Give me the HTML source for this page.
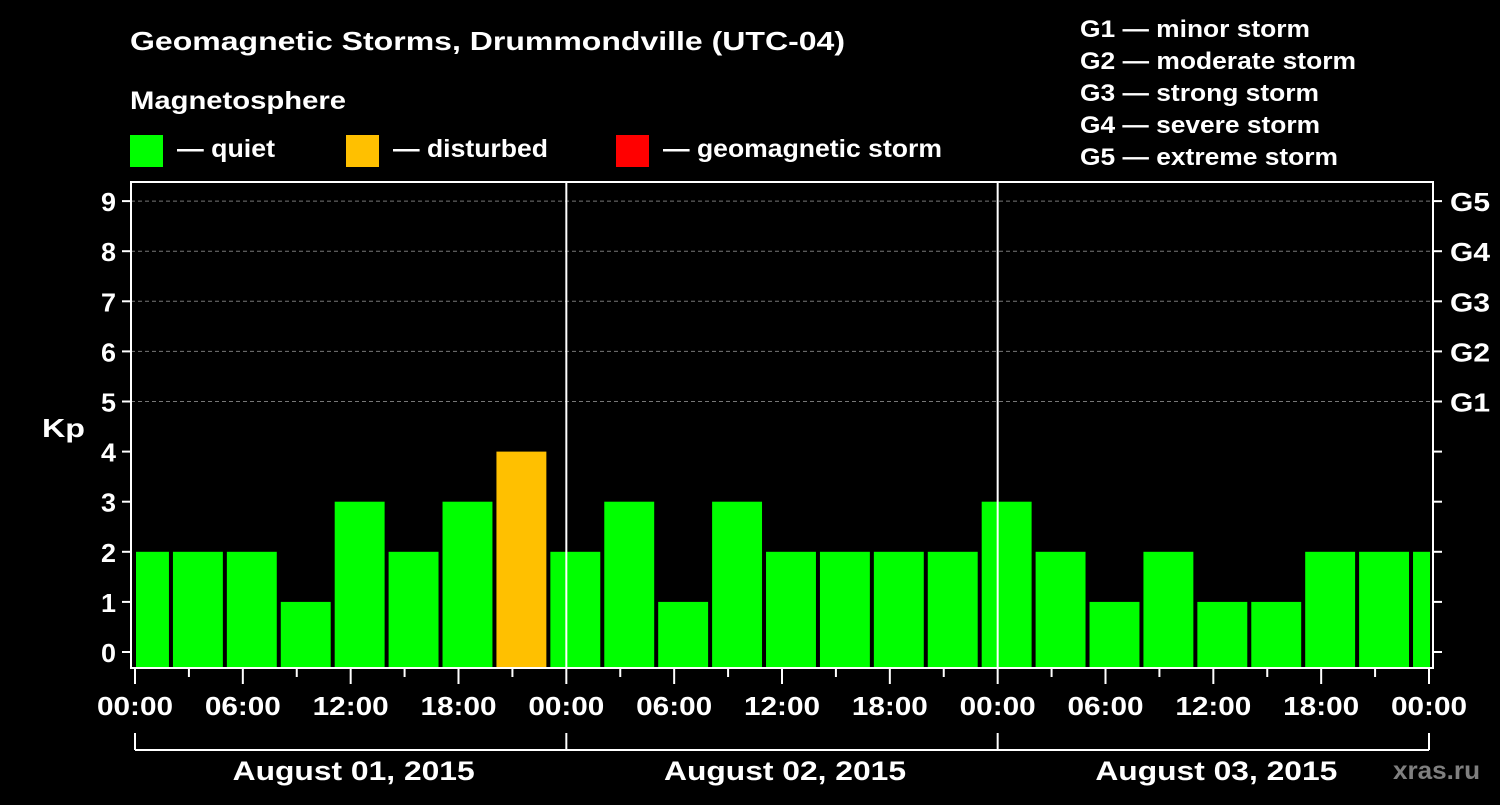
<!DOCTYPE html>
<html><head><meta charset="utf-8"><style>
html,body{margin:0;padding:0;background:#000;}
text{font-family:"Liberation Sans",sans-serif;font-weight:bold;fill:#fff;}
</style></head><body>
<svg width="1500" height="800" viewBox="0 0 1500 800" id="chart">
<text x="130" y="50" font-size="26" textLength="715" lengthAdjust="spacingAndGlyphs">Geomagnetic Storms, Drummondville (UTC-04)</text>
<text x="130" y="109" font-size="25" textLength="216" lengthAdjust="spacingAndGlyphs">Magnetosphere</text>
<rect x="130" y="135" width="33" height="32" fill="#00ff00"/>
<text x="177" y="157" font-size="25" textLength="98" lengthAdjust="spacingAndGlyphs">— quiet</text>
<rect x="346" y="135" width="33" height="32" fill="#ffc000"/>
<text x="393" y="157" font-size="25" textLength="155" lengthAdjust="spacingAndGlyphs">— disturbed</text>
<rect x="616" y="135" width="33" height="32" fill="#ff0000"/>
<text x="663" y="157" font-size="25" textLength="279" lengthAdjust="spacingAndGlyphs">— geomagnetic storm</text>
<g font-size="24">
<text x="1080" y="37" textLength="230" lengthAdjust="spacingAndGlyphs">G1 — minor storm</text>
<text x="1080" y="69" textLength="276" lengthAdjust="spacingAndGlyphs">G2 — moderate storm</text>
<text x="1080" y="101" textLength="239" lengthAdjust="spacingAndGlyphs">G3 — strong storm</text>
<text x="1080" y="133" textLength="240" lengthAdjust="spacingAndGlyphs">G4 — severe storm</text>
<text x="1080" y="165" textLength="258" lengthAdjust="spacingAndGlyphs">G5 — extreme storm</text>
</g>
<text x="42" y="437" font-size="26" textLength="43" lengthAdjust="spacingAndGlyphs">Kp</text>
<g id="plot"></g>
<text x="1393" y="779" font-size="25" textLength="87" lengthAdjust="spacingAndGlyphs" style="fill:#7f7f7f">xras.ru</text>
</svg>
<script>
const kpValues=[2,2,2,1,3,2,3,4,2,3,1,3,2,2,2,2,3,2,1,2,1,1,2,2,2];
const startHour=-1;
const yTicks=[0,1,2,3,4,5,6,7,8,9];
const gLabels=["","","","","","G1","G2","G3","G4","G5"];
const xTickLabels=["00:00","06:00","12:00","18:00","00:00","06:00","12:00","18:00","00:00","06:00","12:00","18:00","00:00"];
const dayLabels=["August 01, 2015","August 02, 2015","August 03, 2015"];

const NS="http://www.w3.org/2000/svg";
const X0=135,X1=1429,totalH=72;
const fL=131,fR=1433,fT=182,fB=668;
const xs=h=>X0+(X1-X0)*h/totalH;
const ys=v=>652-50.1*v;
const g=document.getElementById('plot');
function mk(t,a,p){const e=document.createElementNS(NS,t);for(const k in a)e.setAttribute(k,a[k]);(p||g).appendChild(e);return e;}
yTicks.forEach(v=>{if(v>=5){const l=mk('line',{x1:fL,x2:fR,y1:ys(v),y2:ys(v),stroke:'#777','stroke-dasharray':'4,3','stroke-width':1});

}});
kpValues.forEach((v,i)=>{
 let a=xs(startHour+i*3)+2,b=xs(startHour+i*3+3)-2;
 a=Math.max(a,fL+5);b=Math.min(b,fR-3);
 const col=v>=5?'#ff0000':(v>=4?'#ffc000':'#00ff00');
 const r=mk('rect',{x:a,y:ys(v),width:b-a,height:fB-ys(v),fill:col});
 
 
});
[1,2].forEach(d=>{const l=mk('line',{x1:xs(d*24),x2:xs(d*24),y1:fT,y2:fB,stroke:'#fff','stroke-width':2});

});
const fr=mk('rect',{x:fL,y:fT,width:fR-fL,height:fB-fT,fill:'none',stroke:'#fff','stroke-width':2});


yTicks.forEach((v,i)=>{
 mk('line',{x1:fL-9,x2:fL,y1:ys(v),y2:ys(v),stroke:'#fff','stroke-width':2});
 mk('line',{x1:fR,x2:fR+9,y1:ys(v),y2:ys(v),stroke:'#fff','stroke-width':2});
 const t=mk('text',{x:fL-15,y:ys(v)+10,'font-size':26,'text-anchor':'end',textLength:15,lengthAdjust:'spacingAndGlyphs'});t.textContent=v;
 
 
 if(gLabels[i]){const s=mk('text',{x:1450,y:ys(v)+10,'font-size':26,textLength:40,lengthAdjust:'spacingAndGlyphs'});s.textContent=gLabels[i];
 
 }
});
for(let h=0;h<=72;h+=3){const maj=h%6===0;mk('line',{x1:xs(h),x2:xs(h),y1:fB,y2:fB+(maj?16:9),stroke:'#fff','stroke-width':2});}
xTickLabels.forEach((s,i)=>{const t=mk('text',{x:xs(i*6)-38,y:715,'font-size':26,textLength:76,lengthAdjust:'spacingAndGlyphs'});t.textContent=s;

});
mk('line',{x1:xs(0),x2:xs(72),y1:750,y2:750,stroke:'#fff','stroke-width':2});
for(let d=0;d<=3;d++)mk('line',{x1:xs(d*24),x2:xs(d*24),y1:733,y2:750,stroke:'#fff','stroke-width':2});
dayLabels.forEach((s,i)=>{const t=mk('text',{x:xs(i*24+12)-121+3,y:780,'font-size':27,textLength:242,lengthAdjust:'spacingAndGlyphs'});t.textContent=s;

});
</script>
</body></html>
